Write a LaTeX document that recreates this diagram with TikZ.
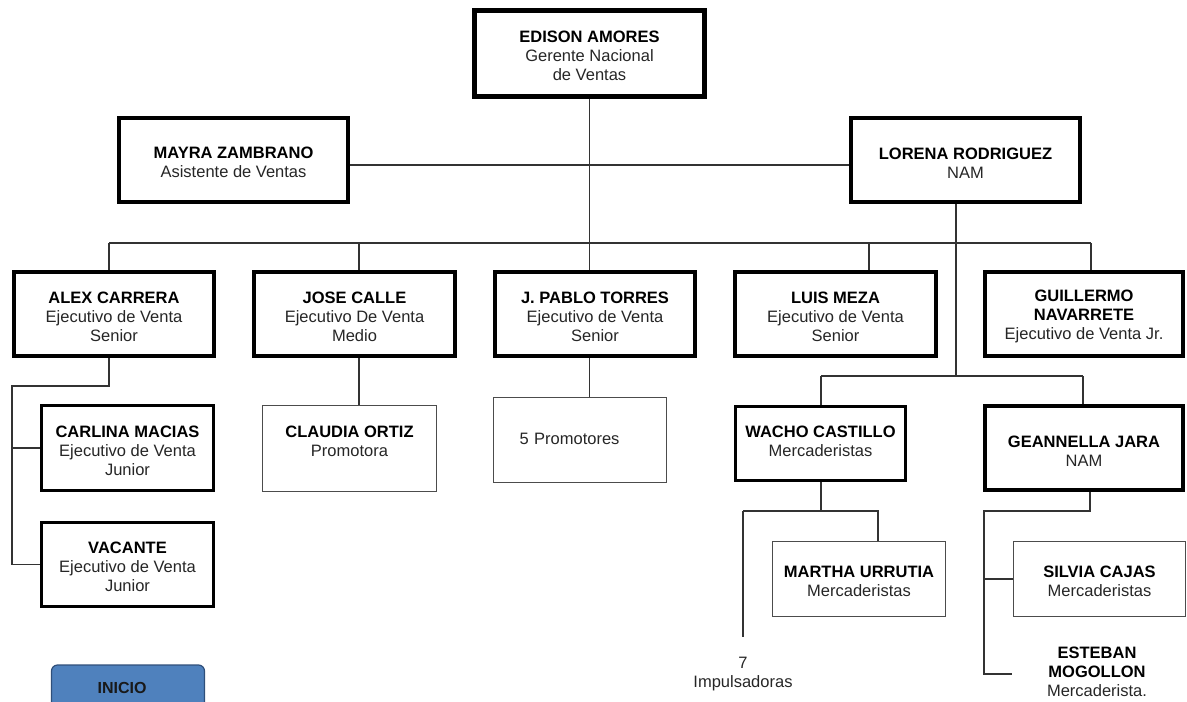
\documentclass[tikz,border=0pt]{standalone}
\usepackage{fontspec}
\setmainfont{Liberation Sans}
\definecolor{btnfill}{HTML}{4F81BD}
\definecolor{btnedge}{HTML}{2F4F7A}
\definecolor{subtext}{HTML}{262626}
% taller first line pushes the text block down a little inside its box
\newcommand\firstline{\rule{0pt}{17pt}}
% deeper last line pulls the text block up inside its box
\newcommand\lastdepth[1]{\rule[-#1]{0pt}{1pt}}
\newcommand\nm[1]{\textbf{\color{black}\firstline#1}}
\newcommand\nmb[1]{\textbf{\color{black}#1}}
\begin{document}
\begin{tikzpicture}[x=1pt,y=-1pt,
  base/.style={rectangle, draw=black, fill=white, align=center, inner sep=0pt,
    font=\fontsize{16.5}{19}\selectfont, text=subtext},
  heavy/.style={base, line width=5pt},
  boxA/.style={base, line width=4pt},
  boxB/.style={base, line width=3pt},
  boxC/.style={base, line width=1.3pt, draw=black!70},
  plain/.style={align=center, inner sep=0pt, font=\fontsize{16.5}{19}\selectfont, text=subtext},
  link/.style={line width=1.4pt, draw=black!80}]
\useasboundingbox (0,0) rectangle (1187,702);

% top management
\node[heavy, minimum width=230, minimum height=86] (edison) at (589.5,53.5)
  {\nm{EDISON AMORES}\\Gerente Nacional\\de Ventas};
\node[boxA, minimum width=229, minimum height=84] (mayra) at (233.5,160)
  {\nm{MAYRA ZAMBRANO}\\Asistente de Ventas};
\node[boxA, minimum width=229, minimum height=84] (lorena) at (965.5,160)
  {\nm{LORENA RODRIGUEZ}\\NAM};

% sales executives
\node[boxA, minimum width=200, minimum height=84] (alex) at (114,314)
  {\nm{ALEX CARRERA}\\Ejecutivo de Venta\\Senior};
\node[boxA, minimum width=201, minimum height=84] (jose) at (354.5,314)
  {\nm{JOSE CALLE}\\Ejecutivo De Venta\\Medio};
\node[boxA, minimum width=200, minimum height=84] (jpablo) at (595,314)
  {\nm{J. PABLO TORRES}\\Ejecutivo de Venta\\Senior};
\node[boxA, minimum width=201, minimum height=84] (luis) at (835.5,314)
  {\nm{LUIS MEZA}\\Ejecutivo de Venta\\Senior};
\node[boxA, minimum width=198, minimum height=84] (guillermo) at (1084,314)
  {\nm{GUILLERMO}\\\nmb{NAVARRETE}\\Ejecutivo de Venta Jr.};

% third level
\node[boxB, minimum width=172, minimum height=85] (carlina) at (127.5,448)
  {\nm{CARLINA MACIAS}\\Ejecutivo de Venta\\Junior};
\node[boxB, minimum width=172, minimum height=84] (vacante) at (127.5,564.5)
  {\nm{VACANTE}\\Ejecutivo de Venta\\Junior};
\node[boxC, minimum width=174, minimum height=86] (claudia) at (349.5,448.5)
  {\nm{CLAUDIA ORTIZ}\\Promotora\lastdepth{20pt}};
\node[boxC, minimum height=85, text width=121, inner xsep=26pt, align=left] (promo) at (580,440)
  {\firstline 5 Promotores\lastdepth{9pt}};
\node[boxB, minimum width=170, minimum height=74] (wacho) at (820.5,443.5)
  {\nm{WACHO CASTILLO}\\Mercaderistas\lastdepth{11pt}};
\node[boxA, minimum width=198, minimum height=84] (geannella) at (1084,448)
  {\nm{GEANNELLA JARA}\\NAM};

% fourth level
\node[boxC, minimum width=173, minimum height=75] (martha) at (859,579)
  {\nm{MARTHA URRUTIA}\\Mercaderistas};
\node[boxC, minimum width=172, minimum height=75] (silvia) at (1099.5,579)
  {\nm{SILVIA CAJAS}\\Mercaderistas};
\node[plain] (esteban) at (1097,671.5)
  {\nmb{ESTEBAN}\\\nmb{MOGOLLON}\\Mercaderista.};
\node[plain] (impuls) at (743,674) {7\\Impulsadoras};

% navigation button
\node[rectangle, rounded corners=6pt, fill=btnfill, draw=btnedge, line width=1.2pt,
  minimum width=153, minimum height=46, inner sep=0pt,
  font=\fontsize{16}{19}\selectfont\bfseries, text=black!90] (inicio) at (128,688)
  {INICIO\kern12pt};

% junction points
\coordinate (busL) at (109,243);
\coordinate (busJ) at (359,243);
\coordinate (busLu) at (869,243);
\coordinate (busR) at (1091,243);
\coordinate (lorTee) at (956,376);
\coordinate (brL) at (821,376);
\coordinate (brR) at (1083,376);
\coordinate (alexT) at (109,386);
\coordinate (alexL) at (12,386);
\coordinate (wachoT) at (821,511);
\coordinate (wachoL) at (743,511);
\coordinate (wachoR) at (878,511);
\coordinate (impEnd) at (743,637);
\coordinate (geaT) at (1090,511);
\coordinate (geaL) at (984,511);
\coordinate (geaB) at (984,674);
\coordinate (estEnd) at (1012,674);

% connectors
\begin{scope}[link]
  \draw (edison.south) -- (edison.south |- jpablo.north);
  \draw ([yshift=-5pt]mayra.east) -- ([yshift=-5pt]mayra.east -| lorena.west);
  \draw (busL) -- (busR);
  \draw (busL) -- (busL |- alex.north);
  \draw (busJ) -- (busJ |- jose.north);
  \draw (busLu) -- (busLu |- luis.north);
  \draw (busR) -- (busR |- guillermo.north);
  \draw (lorTee |- lorena.south) -- (lorTee);
  \draw (brL) -- (brR);
  \draw (brL) -- (brL |- wacho.north);
  \draw (brR) -- (brR |- geannella.north);
  \draw (alexT |- alex.south) -- (alexT) -- (alexL) -- (alexL |- vacante.west) -- (vacante.west);
  \draw (alexL |- carlina.west) -- (carlina.west);
  \draw (busJ |- jose.south) -- (busJ |- claudia.north);
  \draw (edison.south |- jpablo.south) -- (edison.south |- promo.north);
  \draw (wachoT |- wacho.south) -- (wachoT);
  \draw (wachoL) -- (wachoR) -- (wachoR |- martha.north);
  \draw (wachoL) -- (impEnd);
  \draw (geaT |- geannella.south) -- (geaT) -- (geaL) -- (geaB) -- (estEnd);
  \draw (geaL |- silvia.west) -- (silvia.west);
\end{scope}
\end{tikzpicture}
\end{document}
